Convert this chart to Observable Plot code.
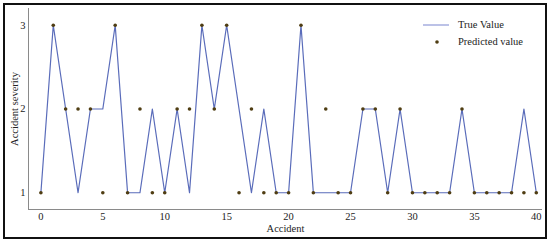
<!DOCTYPE html>
<html><head><meta charset="utf-8">
<script src="https://cdn.jsdelivr.net/npm/d3@7"></script>
<script src="https://cdn.jsdelivr.net/npm/@observablehq/plot@0.6"></script>
<style>
body{margin:0;background:#fff;}
#wrap{position:relative;width:550px;height:242px;font-family:"Liberation Serif","DejaVu Serif",serif;}
#frame{position:absolute;left:3px;top:3px;width:540px;height:232px;border:2px solid #111;pointer-events:none;}
#legend{position:absolute;left:422px;top:17px;font-size:10.5px;color:#222;line-height:16px;}
#legend div{display:flex;align-items:center;height:16.5px;}
#legend svg{margin-right:8px;}
svg text{font-family:"Liberation Serif",serif;}
</style></head><body><div id="wrap"></div>
<script>
const accident = [0,1,2,3,4,5,6,7,8,9,10,11,12,13,14,15,16,17,18,19,20,21,22,23,24,25,26,27,28,29,30,31,32,33,34,35,36,37,38,39,40];
const trueValue = [1,3,2,1,2,2,3,1,1,2,1,2,1,3,2,3,2,1,2,1,1,3,1,1,1,1,2,2,1,2,1,1,1,1,2,1,1,1,1,2,1];
const predicted = [1,3,2,2,2,1,3,1,2,1,1,2,2,3,2,3,1,2,1,1,1,3,1,2,1,1,2,2,1,2,1,1,1,1,2,1,1,1,1,1,1];
const xTicks = [0,5,10,15,20,25,30,35,40];
const yTicks = [1,2,3];
const seriesNames = ["True Value","Predicted value"];

const data = accident.map((a,i)=>({accident:a,trueValue:trueValue[i],predicted:predicted[i]}));

const lineColor = "#5a6cba";
const dotColor = "#4f3d12";

const chart = Plot.plot({
  width:550,height:242,marginLeft:28,marginRight:8,marginTop:8,marginBottom:33,
  style:{fontFamily:"'Liberation Serif', serif", fontSize:"10.5px", color:"#222", background:"transparent", overflow:"visible"},
  x:{domain:[-1,40.5], ticks:xTicks, tickSize:0, tickPadding:3, tickFormat:d=>String(d), label:"Accident", labelAnchor:"center", labelOffset:22, labelArrow:"none"},
  y:{domain:[0.8,3.2], ticks:yTicks, tickSize:0, tickPadding:3, tickFormat:d=>String(d), label:"Accident severity", labelAnchor:"center", labelOffset:18, labelArrow:"none"},
  marks:[
    Plot.ruleX([-1],{stroke:"#8a8a8a",strokeWidth:1}),
    Plot.ruleY([0.8],{stroke:"#8a8a8a",strokeWidth:1}),
    Plot.line(data,{x:"accident",y:"trueValue",stroke:lineColor,strokeWidth:1.2}),
    Plot.dot(data,{x:"accident",y:"predicted",r:1.8,fill:dotColor,stroke:null})
  ]
});
const wrap = document.getElementById("wrap");
wrap.appendChild(chart);
const frame = document.createElement("div"); frame.id="frame"; wrap.appendChild(frame);
const legend = document.createElement("div"); legend.id="legend";
legend.innerHTML = `<div><svg width="28" height="6"><line x1="1" y1="3" x2="27" y2="3" stroke="#8f9ad8" stroke-width="1.2"/></svg><span>${seriesNames[0]}</span></div>
<div><svg width="28" height="6"><circle cx="15" cy="3" r="1.8" fill="${dotColor}"/></svg><span>${seriesNames[1]}</span></div>`;
wrap.appendChild(legend);
</script>
</body></html>
